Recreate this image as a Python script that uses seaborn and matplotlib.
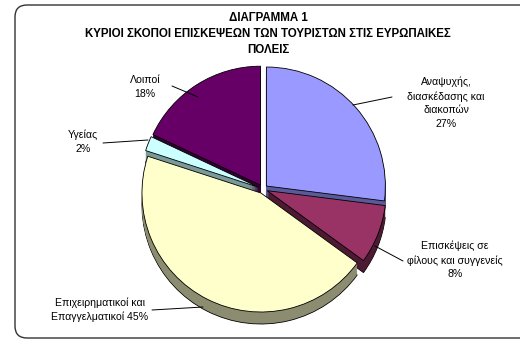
import matplotlib
matplotlib.use("Agg")
import matplotlib.pyplot as plt
from matplotlib.patches import FancyBboxPatch
import seaborn as sns

sns.set_theme(style="white")
plt.rcParams['font.family'] = ['Liberation Sans', 'DejaVu Sans']

# data
categories = ["Αναψυχής,\nδιασκέδασης και\nδιακοπών",
              "Επισκέψεις σε\nφίλους και συγγενείς",
              "Επιχειρηματικοί και\nΕπαγγελματικοί",
              "Υγείας",
              "Λοιποί"]
values = [27, 8, 45, 2, 18]
top_colors = ["#9999FF", "#993366", "#FFFFCC", "#CCFFFF", "#660066"]
side_colors = ["#5a5a99", "#4d1a33", "#8c8c70", "#7a9999", "#330033"]
title_lines = ["ΔΙΑΓΡΑΜΜΑ 1",
               "ΚΥΡΙΟΙ ΣΚΟΠΟΙ ΕΠΙΣΚΕΨΕΩΝ ΤΩΝ ΤΟΥΡΙΣΤΩΝ ΣΤΙΣ ΕΥΡΩΠΑΙΚΕΣ",
               "ΠΟΛΕΙΣ"]

W, H = 520, 344
fig = plt.figure(figsize=(W / 100, H / 100), dpi=100)
fig.patch.set_facecolor("white")
ax = fig.add_axes([0, 0, 1, 1])

def Y(y):
    return H - y

cx, cy, r = 263, Y(189), 119
depth = 12
explode = [4.5] * len(values)
common = dict(startangle=90, counterclock=False, explode=explode, radius=r)

# 3D side band
ax.pie(values, center=(cx, cy - depth), colors=side_colors,
       wedgeprops=dict(edgecolor="black", linewidth=0.6), frame=True, **common)
for d in range(depth - 1, 0, -1):
    ax.pie(values, center=(cx, cy - d), colors=side_colors,
           wedgeprops=dict(linewidth=0), frame=True, **common)
# top face
ax.pie(values, center=(cx, cy), colors=top_colors,
       wedgeprops=dict(edgecolor="black", linewidth=0.6), frame=True, **common)

# frame
box = FancyBboxPatch((15, Y(338)), 530, 333, boxstyle="round,pad=0,rounding_size=12",
                     facecolor="none", edgecolor="#333333", linewidth=1.0, zorder=0)
ax.add_patch(box)

# title
for i, t in enumerate(title_lines):
    ax.text(268, Y(18 + 16 * i), t, ha="center", va="center", fontsize=8.3,
            fontweight="bold", color="black")

fs = 7.6
cat2 = categories[2].split("\n")
labels = [
    (f"{categories[0]}\n{values[0]}%", 446, 103),
    (f"{categories[1]}\n{values[1]}%", 455, 260),
    (f"{cat2[0]}\n{cat2[1]} {values[2]}%", 100, 310),
    (f"{categories[3]}\n{values[3]}%", 83, 142),
    (f"{categories[4]}\n{values[4]}%", 145, 87),
]
for txt, x, y in labels:
    ax.text(x, Y(y), txt, ha="center", va="center", fontsize=fs,
            linespacing=1.45, color="black")

leaders = [
    ((353, 105), (392, 97)),
    ((375, 246), (403, 261)),
    ((152, 310), (203, 307)),
    ((103, 143), (148, 140)),
    ((172, 86), (198, 97)),
]
for (x0, y0), (x1, y1) in leaders:
    ax.plot([x0, x1], [Y(y0), Y(y1)], color="black", linewidth=0.7)

ax.set_xlim(0, W)
ax.set_ylim(0, H)
ax.set_aspect("equal")
ax.axis("off")
fig.savefig("out.png", dpi=100, facecolor="white")
